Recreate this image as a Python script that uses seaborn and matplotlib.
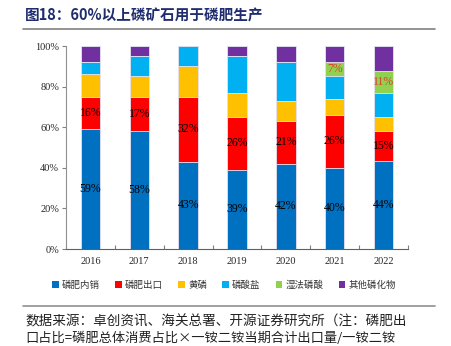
import matplotlib
matplotlib.use("Agg")
import matplotlib.pyplot as plt
import seaborn as sns
import numpy as np
import pandas as pd
from matplotlib.patches import Patch
from matplotlib.lines import Line2D

years = ["2016", "2017", "2018", "2019", "2020", "2021", "2022"]
series_names = ["磷肥内销", "磷肥出口", "黄磷", "磷酸盐", "湿法磷酸", "其他磷化物"]
domestic = [59, 58, 43, 39, 42, 40, 43.6]
export = [16, 17, 32, 26, 21, 26, 14.6]
yellow_p = [11, 10, 15, 12, 10, 8, 7]
phosphate = [6, 10, 10, 18, 19, 11, 11.5]
wet_acid = [0, 0, 0, 0, 0, 7, 11]
other = [8, 5, 0, 5, 8, 8, 12.3]
colors = ["#0070C0", "#FF0000", "#FFC000", "#00B0F0", "#92D050", "#7030A0"]

sns.set_theme(style="white")
plt.rcParams["font.family"] = ["Noto Sans CJK SC", "DejaVu Sans"]

fig = plt.figure(figsize=(4.51, 3.46), dpi=100)
ax = fig.add_axes([0.1463, 0.2803, 0.7584, 0.5867])

layers = [domestic, export, yellow_p, phosphate, wet_acid, other]
cum = np.cumsum(np.array(layers, dtype=float), axis=0)

# draw from top cumulative to bottom (overlay stacked bars)
for i in range(len(layers) - 1, -1, -1):
    df = pd.DataFrame({"year": years, "val": cum[i]})
    sns.barplot(data=df, x="year", y="val", order=years, color=colors[i],
                saturation=1, width=0.4, edgecolor="#E8E4F4", linewidth=0.6,
                ax=ax, errorbar=None)

serif = "Liberation Serif"
for j in range(len(years)):
    ax.text(j, domestic[j] / 2, f"{round(domestic[j])}%", ha="center", va="center",
            fontsize=8.5, family=serif, color="black")
    ax.text(j, domestic[j] + export[j] / 2, f"{round(export[j])}%", ha="center", va="center",
            fontsize=8.5, family=serif, color="black")
    if wet_acid[j] > 0:
        base = cum[3][j]
        ax.text(j, base + wet_acid[j] / 2, f"{round(wet_acid[j])}%", ha="center", va="center",
                fontsize=8.5, family=serif, color="#D9412A")

ax.set_xlim(-0.5, 6.5)
ax.set_ylim(0, 100)
ax.set_xlabel("")
ax.set_ylabel("")
ax.set_yticks(np.arange(0, 101, 20))
ax.set_yticklabels([f"{v}%" for v in range(0, 101, 20)], family=serif, fontsize=7.5)
ax.set_xticks(range(len(years)))
ax.set_xticklabels(years, family=serif, fontsize=7.5)
ax.tick_params(axis="x", length=0, pad=6)
ax.tick_params(axis="y", length=3, width=0.8, color="#808080", direction="out", pad=2, left=True)
ax.set_xticks(np.arange(-0.5, 7.0, 1.0), minor=True)
ax.tick_params(axis="x", which="minor", length=3, width=0.8, color="#808080", direction="in", bottom=True)

for s in ["top", "right"]:
    ax.spines[s].set_visible(False)
ax.spines["left"].set_color("#909090")
ax.spines["bottom"].set_color("#606060")
ax.spines["left"].set_linewidth(0.8)
ax.spines["bottom"].set_linewidth(0.8)

handles = [Patch(facecolor=c, edgecolor="none") for c in colors]
fig.legend(handles, series_names, loc="center", bbox_to_anchor=(0.497, 1 - 285 / 346),
           ncol=6, frameon=False, fontsize=6.8, handlelength=0.7, handleheight=0.7,
           handletextpad=0.35, columnspacing=1.6, labelcolor="#333333")

fig.text(25 / 451, 1 - 15 / 346, "图18：60%以上磷矿石用于磷肥生产", ha="left", va="center",
         fontsize=10.5, fontweight="bold", color="#1F2D6E")
fig.add_artist(Line2D([23 / 451, 435 / 451], [1 - 29 / 346] * 2, color="#808080", lw=1.2))
fig.add_artist(Line2D([23 / 451, 435 / 451], [1 - 306 / 346] * 2, color="#909090", lw=1.2))

fig.text(25 / 451, 1 - 321 / 346, "数据来源：卓创资讯、海关总署、开源证券研究所（注：磷肥出",
         ha="left", va="center", fontsize=9.8, color="#222222")
fig.text(25 / 451, 1 - 338 / 346, "口占比=磷肥总体消费占比×一铵二铵当期合计出口量/一铵二铵",
         ha="left", va="center", fontsize=9.5, color="#222222")

fig.savefig("out.png", dpi=100)
